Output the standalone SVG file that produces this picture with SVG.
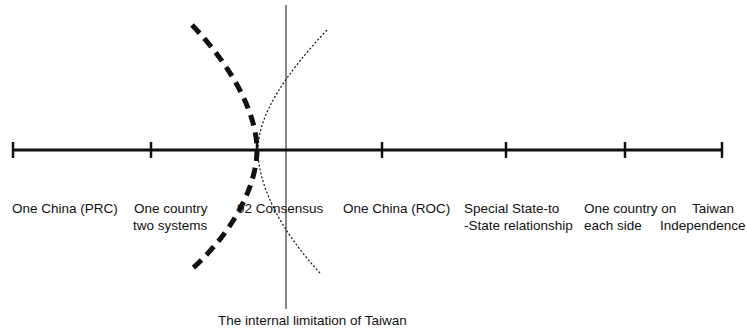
<svg xmlns="http://www.w3.org/2000/svg" width="747" height="329" viewBox="0 0 747 329">
<style>
text{font-family:"Liberation Sans",Arial,sans-serif;font-size:13.5px;fill:#111}
.axis{stroke:#111;stroke-width:3;fill:none}
.tick{stroke:#111;stroke-width:2.5}
</style>
<rect width="747" height="329" fill="#fff"/>
<g id="connectors">
<line class="axis" x1="13" y1="150" x2="722" y2="150"/>
<path d="M192,25 C237,72 257,118 257,150 C257,182 237,228 193,268" fill="none" stroke="#111" stroke-width="5" stroke-dasharray="11,7"/>
<path d="M327,30 C285,75 258,115 258,150 C258,185 280,230 320,273" fill="none" stroke="#111" stroke-width="1.2" stroke-dasharray="2,2"/>
<line x1="286" y1="5" x2="286" y2="309" stroke="#111" stroke-width="1"/>
</g>
<g id="tick-prc"><line class="tick" x1="13" y1="142" x2="13" y2="158"/><text x="12" y="213">One China (PRC)</text></g>
<g id="tick-1c2s"><line class="tick" x1="151" y1="142" x2="151" y2="158"/><text x="134" y="213">One country</text><text x="133" y="230">two systems</text></g>
<g id="tick-92"><line class="tick" x1="257" y1="142" x2="257" y2="158"/><text x="237" y="213">92 Consensus</text></g>
<g id="tick-roc"><line class="tick" x1="382" y1="142" x2="382" y2="158"/><text x="343" y="213">One China (ROC)</text></g>
<g id="tick-special"><line class="tick" x1="506" y1="142" x2="506" y2="158"/><text x="464" y="213">Special State-to</text><text x="464" y="230">-State relationship</text></g>
<g id="tick-each"><line class="tick" x1="625" y1="142" x2="625" y2="158"/><text x="584" y="213">One country on</text><text x="584" y="230">each side</text></g>
<g id="tick-ind"><line class="tick" x1="722" y1="142" x2="722" y2="158"/><text x="692" y="213">Taiwan</text><text x="660" y="230">Independence</text></g>
<g id="label-limit"><text x="218" y="325">The internal limitation of Taiwan</text></g>
</svg>
